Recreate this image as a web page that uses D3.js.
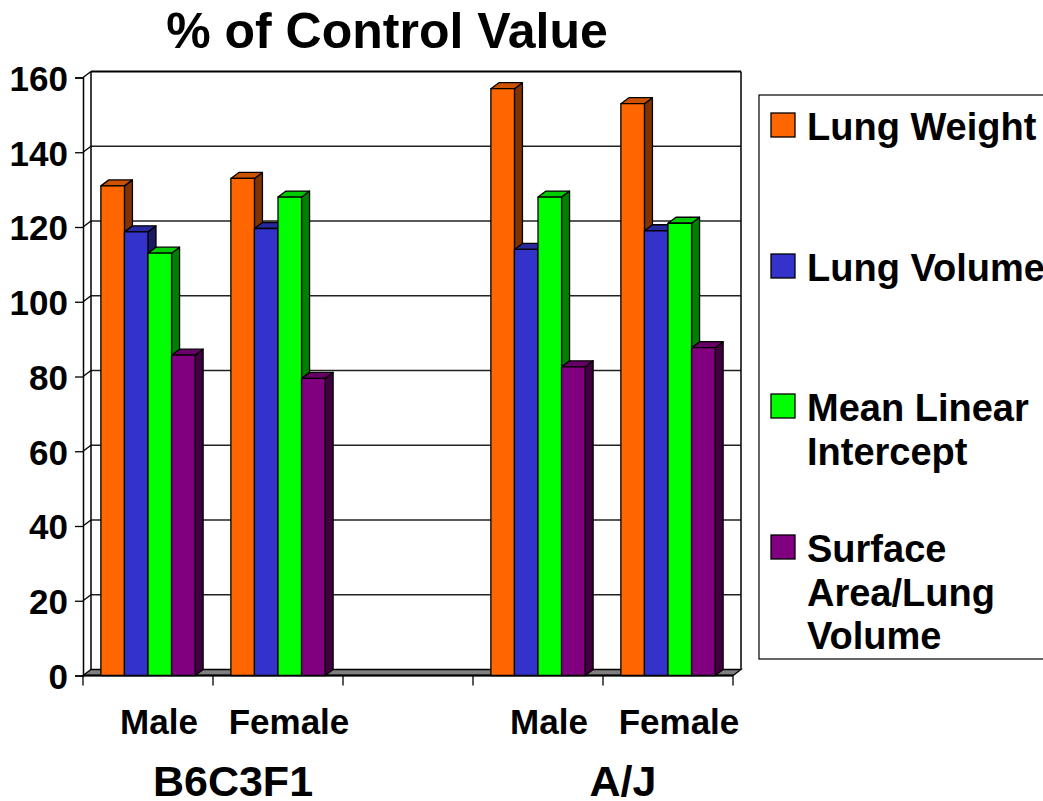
<!DOCTYPE html>
<html>
<head>
<meta charset="utf-8">
<script src="https://cdn.jsdelivr.net/npm/d3@7"></script>
<style>
  html, body { margin: 0; padding: 0; background: #fff; }
  svg { display: block; font-family: "Liberation Sans", Arial, sans-serif; font-weight: bold; }
</style>
</head>
<body>
<svg id="chart" width="1043" height="801"></svg>
<script>
// ---- data ----
const categories = ["Male", "Female", "", "Male", "Female"];
const strains = ["B6C3F1", "A/J"];
const seriesNames = ["Lung Weight", "Lung Volume", "Mean Linear Intercept", "Surface Area/Lung Volume"];
const legendLines = [["Lung Weight"], ["Lung Volume"], ["Mean Linear", "Intercept"], ["Surface", "Area/Lung", "Volume"]];
const lungWeight   = [131, 133, null, 157, 153];
const lungVolume   = [118.7, 119.6, null, 114, 119];
const meanLinear   = [113, 128, null, 128, 121];
const surfaceArea  = [85.7, 79.5, null, 82.6, 87.7];
const yTicks = [0, 20, 40, 60, 80, 100, 120, 140, 160];
const title = "% of Control Value";

// ---- styles ----
const frontColors = ["#FF6600", "#3333CC", "#00FF00", "#800080"];
const topColors   = ["#CC5200", "#29299F", "#00CC00", "#660066"];
const sideColors  = ["#803300", "#1A1A66", "#008000", "#400040"];

const svg = d3.select("#chart");
const X0 = 83, X1 = 733, Y0 = 675.5, Y1 = 77.5, DX = 8, DY = 6;

const catKeys = categories.map((c, i) => i);
const x = d3.scaleBand().domain(catKeys).range([X0, X1]).paddingInner(0.275).paddingOuter(0.1375);
const xs = d3.scaleBand().domain(d3.range(seriesNames.length)).range([0, x.bandwidth()]).padding(0);
const y = d3.scaleLinear().domain([0, 160]).range([Y0, Y1]);

const seriesValues = [lungWeight, lungVolume, meanLinear, surfaceArea];

// Title
svg.append("text").attr("x", 387).attr("y", 48).attr("text-anchor", "middle")
  .attr("font-size", 50).text(title);

// Back wall gridlines
const walls = svg.append("g");
yTicks.forEach(t => {
  const yf = y(t), yb = y(t) - DY;
  if (t === 0) return;
  walls.append("line").attr("x1", X0 + DX).attr("x2", X1 + DX).attr("y1", yb).attr("y2", yb)
    .attr("stroke", t === 160 ? "#000" : "#222").attr("stroke-width", t === 160 ? 2.2 : 1.5);
  walls.append("line").attr("x1", X0).attr("x2", X0 + DX).attr("y1", yf).attr("y2", yb)
    .attr("stroke", "#000").attr("stroke-width", 1.3);
});
walls.append("line").attr("x1", X0 + DX).attr("x2", X0 + DX).attr("y1", y(160) - DY).attr("y2", y(0) - DY)
  .attr("stroke", "#000").attr("stroke-width", 1.5);
walls.append("line").attr("x1", X1 + DX).attr("x2", X1 + DX).attr("y1", y(160) - DY).attr("y2", y(0) - DY)
  .attr("stroke", "#000").attr("stroke-width", 1.5);

// Floor
svg.append("path")
  .attr("d", `M${X0},${Y0} L${X1},${Y0} L${X1 + DX},${Y0 - DY} L${X0 + DX},${Y0 - DY} Z`)
  .attr("fill", "#808080").attr("stroke", "#000").attr("stroke-width", 1.3);
svg.append("line").attr("x1", X0).attr("x2", X1).attr("y1", Y0).attr("y2", Y0)
  .attr("stroke", "#000").attr("stroke-width", 2.2);

// Y axis (front)
const yAxis = d3.axisLeft(y).tickValues(yTicks).tickSize(8).tickPadding(7);
const gy = svg.append("g").attr("transform", `translate(${X0},0)`).call(yAxis);
gy.select(".domain").attr("stroke", "#000").attr("stroke-width", 1.5);
gy.selectAll(".tick line").attr("stroke", "#000").attr("stroke-width", 1.3);
gy.selectAll(".tick text").attr("font-size", 35).attr("font-weight", "bold")
  .attr("font-family", "'Liberation Sans', Arial, sans-serif").attr("fill", "#000").attr("dy", "0.37em");

// X axis ticks at category boundaries
const boundaries = catKeys.map(k => x(k) - x.step() * x.paddingInner() / 2);
boundaries[0] = X0;
boundaries.push(X1);
svg.append("g").selectAll("line").data(boundaries).join("line")
  .attr("x1", d => d).attr("x2", d => d).attr("y1", Y0).attr("y2", Y0 + 10)
  .attr("stroke", "#000").attr("stroke-width", 1.3);

// Bars (3D)
const bars = svg.append("g");
catKeys.forEach(ci => {
  seriesValues.forEach((vals, si) => {
    const v = vals[ci];
    if (v == null) return;
    const bx = x(ci) + xs(si), bw = xs.bandwidth(), yt = y(v), yb = y(0);
    const g = bars.append("g").attr("stroke", "#000").attr("stroke-width", 1.3).attr("stroke-linejoin", "round");
    g.append("path").attr("fill", sideColors[si])
      .attr("d", `M${bx + bw},${yt} L${bx + bw + DX},${yt - DY} L${bx + bw + DX},${yb - DY} L${bx + bw},${yb} Z`);
    g.append("path").attr("fill", topColors[si])
      .attr("d", `M${bx},${yt} L${bx + DX},${yt - DY} L${bx + bw + DX},${yt - DY} L${bx + bw},${yt} Z`);
    g.append("rect").attr("fill", frontColors[si]).attr("x", bx).attr("y", yt).attr("width", bw).attr("height", yb - yt);
  });
});

// Category labels
svg.append("g").selectAll("text").data(catKeys.filter(k => categories[k] !== "")).join("text")
  .attr("x", k => x(k) + x.bandwidth() / 2 + 11).attr("y", 734)
  .attr("text-anchor", "middle").attr("font-size", 35).text(k => categories[k]);

// Strain labels (centered over pairs of categories)
const strainCenters = [
  (x(0) + x(1) + x.bandwidth()) / 2,
  (x(3) + x(4) + x.bandwidth()) / 2
];
svg.append("g").selectAll("text").data(strains).join("text")
  .attr("x", (d, i) => strainCenters[i] + 20).attr("y", 796)
  .attr("text-anchor", "middle").attr("font-size", 43).text(d => d);

// Legend
const lg = svg.append("g");
lg.append("rect").attr("x", 759).attr("y", 95).attr("width", 320).attr("height", 564)
  .attr("fill", "#fff").attr("stroke", "#000").attr("stroke-width", 1.2);
const legendBaselines = [140, 281, 421, 562];
legendLines.forEach((lines, i) => {
  const b = legendBaselines[i];
  lg.append("rect").attr("x", 771).attr("y", b - 27).attr("width", 24).attr("height", 24)
    .attr("fill", frontColors[i]).attr("stroke", "#000").attr("stroke-width", 1.3);
  const t = lg.append("text").attr("x", 807).attr("y", b).attr("font-size", 38);
  lines.forEach((ln, j) => {
    t.append("tspan").attr("x", 807).attr("y", b + j * 43.5).text(ln);
  });
});
</script>
</body>
</html>
